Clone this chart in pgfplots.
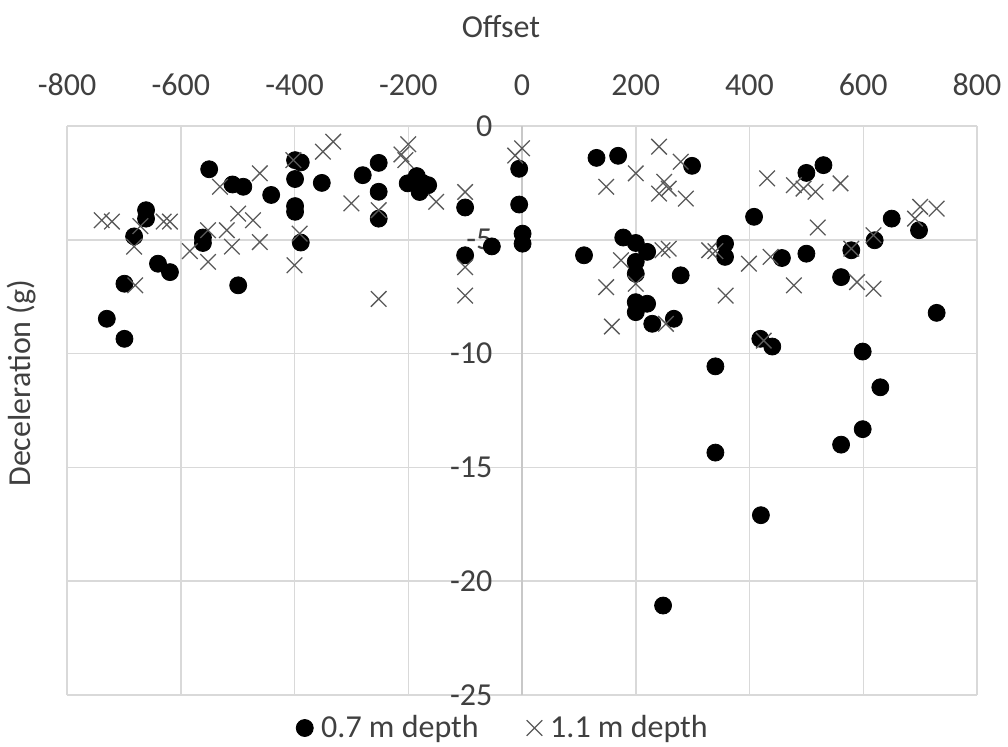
\documentclass[border=0pt]{standalone}
\usepackage{pgfplots}
\pgfplotsset{compat=1.18}
\usepackage{fontspec}
\setmainfont{Carlito}
\definecolor{gridc}{HTML}{D9D9D9}
\definecolor{axc}{HTML}{C8C8C8}
\definecolor{txt}{HTML}{404040}
\definecolor{crossc}{HTML}{595959}
\begin{document}
\begin{tikzpicture}
\path[use as bounding box] (-33.5bp,-26bp) rectangle (470.5bp,347.5bp);
\begin{axis}[
  scale only axis, width=455bp, height=284.5bp,
  at={(0,0)}, anchor=south west,
  xmin=-800, xmax=800, ymin=-25, ymax=0,
  xtick={-800,-600,-400,-200,0,200,400,600,800},
  xticklabels={-800,-600,-400,-200,0,200,400,600,800},
  ytick={-25,-20,-15,-10,-5,0},
  yticklabels={-25,-20,-15,-10,-5,0},
  xticklabel pos=top,
  major tick length=0pt, tick style={draw=none},
  grid=major, grid style={gridc, line width=0.75bp},
  axis line style={draw=none},
  ticklabel style={font=\fontsize{16bp}{19bp}\selectfont, text=txt},
  xticklabel style={anchor=base, yshift=15.5bp},
  yticklabel style={anchor=east, inner sep=0pt, xshift=212.85bp},
  xlabel={Offset},
  xlabel style={at={(axis description cs:0.4769,1.174)}, anchor=center, font=\fontsize{16bp}{19bp}\selectfont, text=txt},
  ylabel={Deceleration (g)},
  ylabel style={at={(axis description cs:-0.0495,0.5483)}, anchor=center, font=\fontsize{16bp}{19bp}\selectfont, text=txt},
  legend columns=2,
  legend style={at={(axis description cs:0.4802,-0.058)}, anchor=center, draw=none, fill=none,
    font=\fontsize{16bp}{19bp}\selectfont, text=txt,
    /tikz/every odd column/.append style={column sep=2bp},
    /tikz/every even column/.append style={column sep=22bp}},
  legend image code/.code={\draw[#1] plot coordinates {(0bp,0bp)};},
]
\draw[axc, line width=0.75bp] (axis cs:0,-25) -- (axis cs:0,0);
\addplot[only marks, mark=*, mark size=4.25bp, draw=black, fill=black] coordinates {
(-730,-8.47) (-699,-9.35) (-699,-6.93) (-682,-4.85) (-661,-3.7) (-661,-4.07)
(-640,-6.05) (-619,-6.42) (-561,-4.9) (-561,-5.14) (-550,-1.9) (-509,-2.57)
(-490,-2.67) (-499,-7.0) (-441,-3.03) (-399,-1.5) (-389,-1.6) (-399,-2.33)
(-399,-3.52) (-399,-3.77) (-389,-5.12) (-352,-2.5) (-280,-2.16) (-252,-1.62)
(-252,-2.89) (-252,-4.07) (-201,-2.52) (-185,-2.2) (-180,-2.9) (-165,-2.6)
(-175,-2.5) (-100,-3.58) (-100,-5.68) (-53,-5.29) (-5,-1.88) (-5,-3.45)
(1,-4.73) (1,-5.17) (109,-5.68) (131,-1.4) (169,-1.31) (178,-4.9)
(200,-5.14) (220,-5.53) (200,-5.97) (200,-6.49) (200,-7.74) (200,-8.18)
(220,-7.81) (229,-8.69) (267,-8.47) (279,-6.56) (299,-1.75) (357,-5.17)
(357,-5.75) (408,-3.99) (419,-9.35) (440,-9.69) (457,-5.8) (500,-2.06)
(530,-1.72) (500,-5.61) (561,-6.64) (579,-5.46) (620,-5.02) (650,-4.07)
(698,-4.58) (729,-8.21) (599,-9.91) (340,-10.56) (340,-14.35) (630,-11.48)
(599,-13.32) (561,-14.0) (420,-17.1) (248,-21.07)
};
\addlegendentry{0.7 m depth}
\addplot[only marks, mark=x, mark size=5.5bp, draw=crossc, line width=0.65bp] coordinates {
(-739,-4.14) (-721,-4.2) (-671,-4.4) (-630,-4.2) (-619,-4.2) (-682,-5.3)
(-680,-7.0) (-584,-5.5) (-552,-4.58) (-552,-5.97) (-531,-2.67) (-519,-4.58)
(-510,-5.3) (-499,-3.85) (-473,-4.14) (-461,-2.08) (-461,-5.1) (-400,-6.12)
(-391,-4.73) (-402,-1.5) (-350,-1.13) (-332,-0.69) (-300,-3.4) (-252,-3.7)
(-252,-7.6) (-200,-0.8) (-212,-1.25) (-205,-1.5) (-151,-3.33) (-100,-2.9)
(-100,-6.2) (-100,-7.45) (0,-0.98) (-12,-1.3) (148,-2.67) (200,-2.08)
(241,-0.91) (279,-1.57) (250,-2.45) (258,-2.75) (241,-2.97) (288,-3.19)
(174,-5.9) (247,-5.46) (258,-5.39) (329,-5.46) (340,-5.5) (148,-7.08)
(200,-6.93) (158,-8.81) (253,-8.69) (358,-7.45) (399,-6.05) (431,-2.3)
(478,-2.6) (495,-2.75) (516,-2.89) (560,-2.52) (520,-4.46) (437,-5.75)
(478,-7.0) (579,-5.39) (589,-6.86) (618,-7.15) (618,-4.8) (691,-4.07)
(700,-3.55) (729,-3.63) (425,-9.43)
};
\addlegendentry{1.1 m depth}
\end{axis}
\end{tikzpicture}
\end{document}
